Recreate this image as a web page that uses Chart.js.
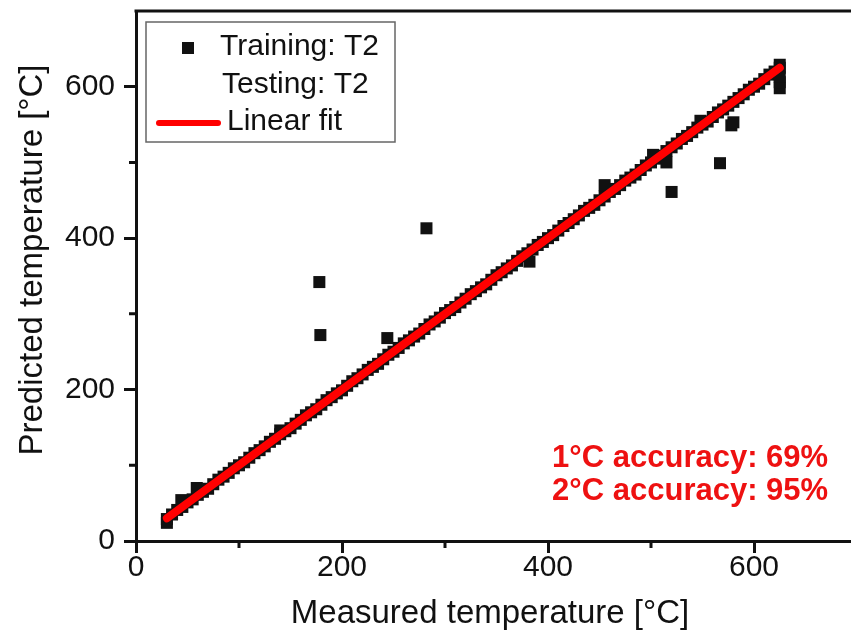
<!DOCTYPE html>
<html>
<head>
<meta charset="utf-8">
<title>Predicted vs measured temperature</title>
<script src="https://cdn.jsdelivr.net/npm/chart.js@4.4.0/dist/chart.umd.min.js"></script>
<style>
html, body { margin: 0; padding: 0; background: #fff; overflow: hidden; }
#wrap { width: 860px; height: 630px; overflow: hidden; }
</style>
</head>
<body>
<div id="wrap"><canvas id="chart" width="860" height="630"></canvas></div>
<script>
// training points: measured / predicted
var trainMeasured = [
    30, 35, 40, 45, 50, 55, 60, 65, 70, 75,
    80, 85, 90, 95, 100, 105, 110, 115, 120, 125,
    130, 135, 140, 145, 150, 155, 160, 165, 170, 175,
    180, 185, 190, 195, 200, 205, 210, 215, 220, 225,
    230, 235, 240, 245, 250, 255, 260, 265, 270, 275,
    280, 285, 290, 295, 300, 305, 310, 315, 320, 325,
    330, 335, 340, 345, 350, 355, 360, 365, 370, 375,
    380, 385, 390, 395, 400, 405, 410, 415, 420, 425,
    430, 435, 440, 445, 450, 455, 460, 465, 470, 475,
    480, 485, 490, 495, 500, 505, 510, 515, 520, 525,
    530, 535, 540, 545, 550, 555, 560, 565, 570, 575,
    580, 585, 590, 595, 600, 605, 610, 615, 620, 625,
    // off-line points
    30, 44, 59, 140, 178, 179, 244, 282, 382, 455, 502,
    515, 520, 548, 567, 578, 580, 625, 625, 625, 625
];
var trainPredicted = [
    29, 35, 41, 45, 51, 55, 61, 65, 69, 75,
    81, 85, 90, 96, 100, 104, 110, 116, 120, 125,
    131, 135, 141, 145, 149, 155, 160, 166, 170, 174,
    180, 186, 190, 195, 199, 205, 211, 215, 220, 226,
    230, 234, 240, 246, 250, 255, 261, 265, 270, 274,
    280, 286, 290, 295, 301, 305, 309, 315, 320, 326,
    330, 335, 339, 345, 351, 355, 360, 364, 370, 376,
    380, 385, 391, 395, 400, 404, 410, 416, 420, 425,
    430, 436, 440, 444, 450, 455, 461, 465, 470, 476,
    480, 484, 490, 496, 500, 505, 509, 515, 520, 525,
    531, 535, 540, 546, 550, 554, 560, 566, 570, 575,
    580, 585, 590, 596, 600, 604, 610, 616, 620, 625,
    24, 54, 70, 146, 342, 272, 268, 413, 369, 470, 510,
    500, 461, 555, 499, 549, 553, 598, 606, 613, 629
];
var testMeasured = [];
var testPredicted = [];
var fitMeasured = [30, 625];
var fitPredicted = [30, 625];

var tickValues = [0, 200, 400, 600];
var minorValues = [100, 300, 500];
var accuracyLines = ["1\u00b0C accuracy: 69%", "2\u00b0C accuracy: 95%"];
var xTitle = "Measured temperature [\u00b0C]";
var yTitle = "Predicted temperature [\u00b0C]";

var FONT = '"Liberation Sans", Arial, sans-serif';
var INK = '#111';

function pairs(xs, ys) {
    return xs.map(function (x, i) { return { x: x, y: ys[i] }; });
}

var decor = {
    id: 'decor',
    afterDraw: function (chart) {
        var ctx = chart.ctx, a = chart.chartArea;
        var xs = chart.scales.x, ys = chart.scales.y;
        ctx.save();

        // frame top (the right side is cropped off in the original)
        ctx.strokeStyle = INK;
        ctx.lineWidth = 3;
        ctx.beginPath();
        ctx.moveTo(a.left - 1.5, a.top);
        ctx.lineTo(a.right + 5, a.top);
        ctx.stroke();

        // minor ticks
        ctx.beginPath();
        minorValues.forEach(function (v) {
            var px = xs.getPixelForValue(v);
            ctx.moveTo(px, a.bottom);
            ctx.lineTo(px, a.bottom + 7);
            var py = ys.getPixelForValue(v);
            ctx.moveTo(a.left, py);
            ctx.lineTo(a.left - 7, py);
        });
        ctx.stroke();

        // legend
        var lx = a.left + 10, ly = a.top + 11;
        ctx.lineWidth = 1.5;
        ctx.strokeStyle = '#666';
        ctx.strokeRect(lx, ly, 249, 120);
        ctx.fillStyle = INK;
        ctx.fillRect(lx + 36, ly + 20, 12, 12);
        ctx.strokeStyle = '#ff0000';
        ctx.lineWidth = 6;
        ctx.lineCap = 'round';
        ctx.beginPath();
        ctx.moveTo(lx + 13, ly + 101);
        ctx.lineTo(lx + 72, ly + 101);
        ctx.stroke();
        ctx.font = '30px ' + FONT;
        ctx.textAlign = 'left';
        ctx.textBaseline = 'alphabetic';
        ctx.fillStyle = INK;
        ctx.fillText(chart.data.datasets[0].label, lx + 74, ly + 33);
        ctx.fillText(chart.data.datasets[1].label, lx + 76, ly + 71);
        ctx.fillText(chart.data.datasets[2].label, lx + 81, ly + 108);

        // accuracy note
        ctx.font = 'bold 31px ' + FONT;
        ctx.fillStyle = '#ee1111';
        ctx.textAlign = 'right';
        var ax = xs.getPixelForValue(672);
        ctx.fillText(accuracyLines[0], ax, ys.getPixelForValue(98));
        ctx.fillText(accuracyLines[1], ax, ys.getPixelForValue(54));

        // axis titles
        ctx.fillStyle = INK;
        ctx.font = '33px ' + FONT;
        ctx.textAlign = 'center';
        ctx.fillText(xTitle, 490, 623);
        ctx.translate(42, 260);
        ctx.rotate(-Math.PI / 2);
        ctx.fillText(yTitle, 0, 0);
        ctx.restore();
    }
};

function majorTickColor(c) {
    return tickValues.indexOf(c.tick.value) >= 0 ? INK : 'rgba(0,0,0,0)';
}
function majorLabel(v) {
    return tickValues.indexOf(v) >= 0 ? String(v) : '';
}

new Chart(document.getElementById('chart'), {
    type: 'scatter',
    data: {
        datasets: [
            {
                label: 'Training: T2',
                data: pairs(trainMeasured, trainPredicted),
                pointStyle: 'rect',
                radius: 8.5,
                backgroundColor: INK,
                borderColor: INK,
                borderWidth: 0
            },
            {
                label: 'Testing: T2',
                data: pairs(testMeasured, testPredicted),
                pointStyle: 'rect',
                radius: 8.5,
                backgroundColor: '#fff',
                borderWidth: 0
            },
            {
                label: 'Linear fit',
                type: 'line',
                data: pairs(fitMeasured, fitPredicted),
                borderColor: '#ff0000',
                borderWidth: 8,
                borderCapStyle: 'round',
                pointRadius: 0,
                fill: false,
                order: -1
            }
        ]
    },
    options: {
        responsive: false,
        animation: false,
        devicePixelRatio: 1,
        layout: { autoPadding: false, padding: { top: 11, right: 3, bottom: 0, left: 0 } },
        plugins: { legend: { display: false }, tooltip: { enabled: false } },
        scales: {
            x: {
                type: 'linear',
                min: 0,
                max: 700,
                afterFit: function (s) {
                    s.height = 89;
                    s.paddingLeft = 0;
                    s.paddingRight = 0;
                },
                border: { color: INK, width: 3 },
                grid: {
                    drawOnChartArea: false,
                    tickLength: 12,
                    tickWidth: 3,
                    tickColor: majorTickColor
                },
                ticks: {
                    stepSize: 100,
                    autoSkip: false,
                    maxRotation: 0,
                    padding: 0,
                    color: INK,
                    font: { family: FONT, size: 30, lineHeight: 1 },
                    callback: majorLabel
                }
            },
            y: {
                type: 'linear',
                min: 0,
                max: 700,
                afterFit: function (s) {
                    s.width = 136;
                    s.paddingTop = 0;
                    s.paddingBottom = 0;
                },
                border: { color: INK, width: 3 },
                grid: {
                    drawOnChartArea: false,
                    tickLength: 12,
                    tickWidth: 3,
                    tickColor: majorTickColor
                },
                ticks: {
                    stepSize: 100,
                    autoSkip: false,
                    padding: 9,
                    color: INK,
                    font: { family: FONT, size: 30, lineHeight: 1 },
                    callback: majorLabel
                }
            }
        }
    },
    plugins: [decor]
});
</script>
</body>
</html>
